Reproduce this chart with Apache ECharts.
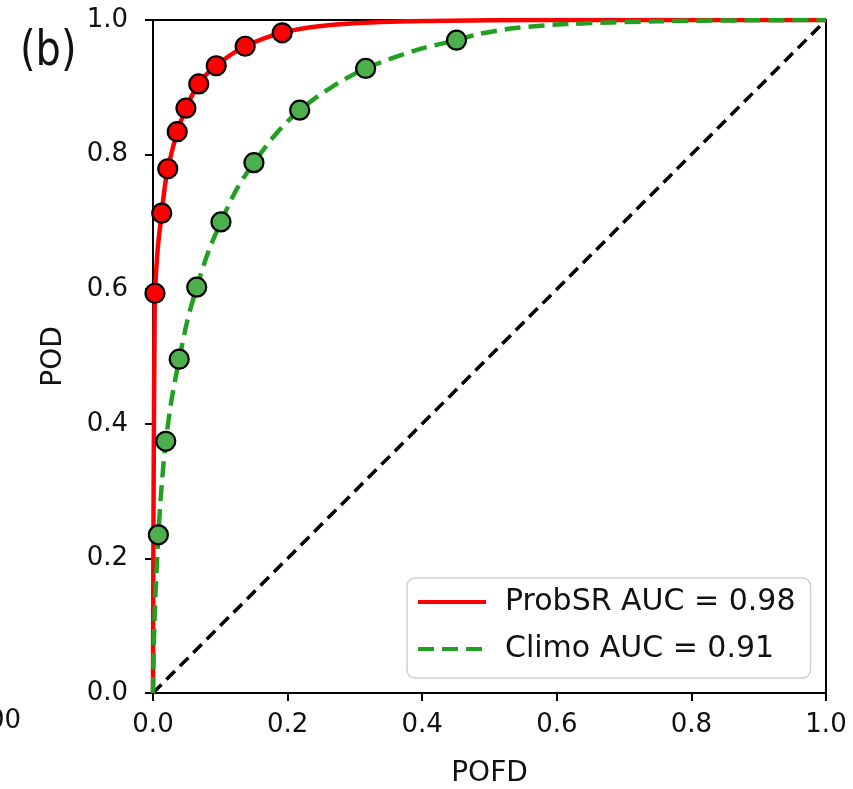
<!DOCTYPE html>
<html>
<head>
<meta charset="utf-8">
<script src="https://cdn.jsdelivr.net/npm/echarts@6/dist/echarts.min.js"></script>
<style>
  html, body { margin: 0; padding: 0; background: #fff; }
  #chart { width: 853px; height: 789px; }
</style>
</head>
<body>
<div id="chart"></div>
<script>
// Tick labels
const xTicks = [0, 0.2, 0.4, 0.6, 0.8, 1.0]
const yTicks = [0, 0.2, 0.4, 0.6, 0.8, 1.0]

// ProbSR: threshold points (POFD, POD) and fitted curve
const probsrPoints = [
  [0.003, 0.594], [0.013, 0.713], [0.022, 0.779], [0.036, 0.834], [0.049, 0.869],
  [0.068, 0.905], [0.094, 0.932], [0.137, 0.961], [0.192, 0.981]
]
const probsrCurve = [
  [0, 0], [0.0003, 0.12], [0.0008, 0.28], [0.0015, 0.42], [0.0022, 0.52], [0.003, 0.594],
  [0.007, 0.66], [0.013, 0.713], [0.017, 0.748], [0.022, 0.779], [0.029, 0.808],
  [0.036, 0.834], [0.049, 0.869], [0.058, 0.888], [0.068, 0.905], [0.08, 0.92],
  [0.094, 0.932], [0.115, 0.948], [0.137, 0.961], [0.163, 0.972], [0.192, 0.981],
  [0.22, 0.987], [0.25, 0.991], [0.3, 0.995], [0.38, 0.998], [0.5, 0.9995],
  [0.65, 1.0], [1.0, 1.0]
]

// Climo: threshold points and fitted curve
const climoPoints = [
  [0.008, 0.235], [0.019, 0.374], [0.039, 0.496], [0.065, 0.603], [0.101, 0.700],
  [0.150, 0.788], [0.218, 0.866], [0.316, 0.928], [0.451, 0.970]
]
const climoCurve = [
  [0, 0], [0.001, 0.06], [0.003, 0.13], [0.008, 0.235], [0.013, 0.31], [0.019, 0.374],
  [0.028, 0.438], [0.039, 0.496], [0.051, 0.553], [0.065, 0.603], [0.082, 0.655],
  [0.101, 0.700], [0.124, 0.748], [0.150, 0.788], [0.182, 0.830], [0.218, 0.866],
  [0.265, 0.900], [0.316, 0.928], [0.397, 0.957], [0.451, 0.970], [0.483, 0.979],
  [0.538, 0.988], [0.615, 0.994], [0.75, 0.998], [0.88, 0.9995], [1.0, 1.0]
]

// No-skill diagonal
const diagonal = [[0, 0], [1, 1]]

const probsrName = 'ProbSR AUC = 0.98'
const climoName = 'Climo AUC = 0.91'
const font = 'DejaVu Sans'

const chart = echarts.init(document.getElementById('chart'))

const axisCommon = {
  type: 'value',
  min: 0,
  max: 1,
  interval: 0.2,
  axisLine: { show: true, onZero: false, lineStyle: { color: '#000', width: 2 } },
  axisTick: { show: true, length: 8, lineStyle: { color: '#000', width: 2 } },
  splitLine: { show: false },
  nameTextStyle: { fontFamily: font, fontSize: 28, color: '#111' },
}

chart.setOption({
  animation: false,
  backgroundColor: '#fff',
  grid: {
    left: 153, right: 27, top: 20, bottom: 96,
    outerBoundsMode: 'none',
    containLabel: false,
    show: true, borderColor: '#000', borderWidth: 2,
  },
  xAxis: {
    ...axisCommon,
    name: 'POFD',
    nameLocation: 'middle',
    nameGap: 67,
    axisLabel: {
      fontFamily: font, fontSize: 26, color: '#111', margin: 19,
      formatter: (v) => (xTicks.includes(+v.toFixed(1)) ? v.toFixed(1) : ''),
    },
  },
  yAxis: {
    ...axisCommon,
    name: 'POD',
    nameLocation: 'middle',
    nameGap: 85,
    nameRotate: 90,
    axisLabel: {
      fontFamily: font, fontSize: 26, color: '#111', margin: 25,
      formatter: (v) => (yTicks.includes(+v.toFixed(1)) ? v.toFixed(1) : ''),
    },
  },
  legend: {
    data: [probsrName, climoName],
    orient: 'vertical',
    left: 407,
    top: 578,
    padding: [7, 15, 12, 9],
    itemGap: 13,
    itemWidth: 68,
    itemHeight: 14,
    backgroundColor: '#fff',
    borderColor: '#d0d0d0',
    borderWidth: 1.5,
    borderRadius: 8,
    itemStyle: { opacity: 0 },
    lineStyle: { width: 4 },
    textStyle: { fontFamily: font, fontSize: 30, lineHeight: 34, color: '#111', padding: [0, 0, 0, 14] },
  },
  graphic: [
    {
      type: 'text', x: 20, y: 28, scaleY: 1.22,
      style: { text: '(b)', font: '40px "DejaVu Sans"', fill: '#111' },
    },
    { type: 'text', left: -12, top: 708, style: { text: '00', font: '26px "DejaVu Sans"', fill: '#111' } },
  ],
  series: [
    {
      type: 'line',
      data: diagonal,
      symbol: 'none',
      lineStyle: { color: '#000', width: 3.5, type: [12, 7] },
      silent: true,
      z: 1,
    },
    {
      name: probsrName,
      type: 'line',
      data: probsrCurve,
      symbol: 'none',
      smooth: 0.3,
      lineStyle: { color: '#ff0000', width: 4.5 },
      itemStyle: { color: '#ff0000' },
      z: 2,
    },
    {
      type: 'scatter',
      data: probsrPoints,
      symbolSize: 19,
      itemStyle: { color: '#ff0000', borderColor: '#000', borderWidth: 2.2, opacity: 1 },
      z: 3,
    },
    {
      name: climoName,
      type: 'line',
      data: climoCurve,
      symbol: 'none',
      smooth: 0.3,
      lineStyle: { color: '#22a022', width: 4.5, type: [16, 8] },
      itemStyle: { color: '#22a022' },
      z: 4,
    },
    {
      type: 'scatter',
      data: climoPoints,
      symbolSize: 19,
      itemStyle: { color: '#4caf4c', borderColor: '#000', borderWidth: 2.2, opacity: 1 },
      z: 5,
    },
  ],
})
</script>
</body>
</html>
